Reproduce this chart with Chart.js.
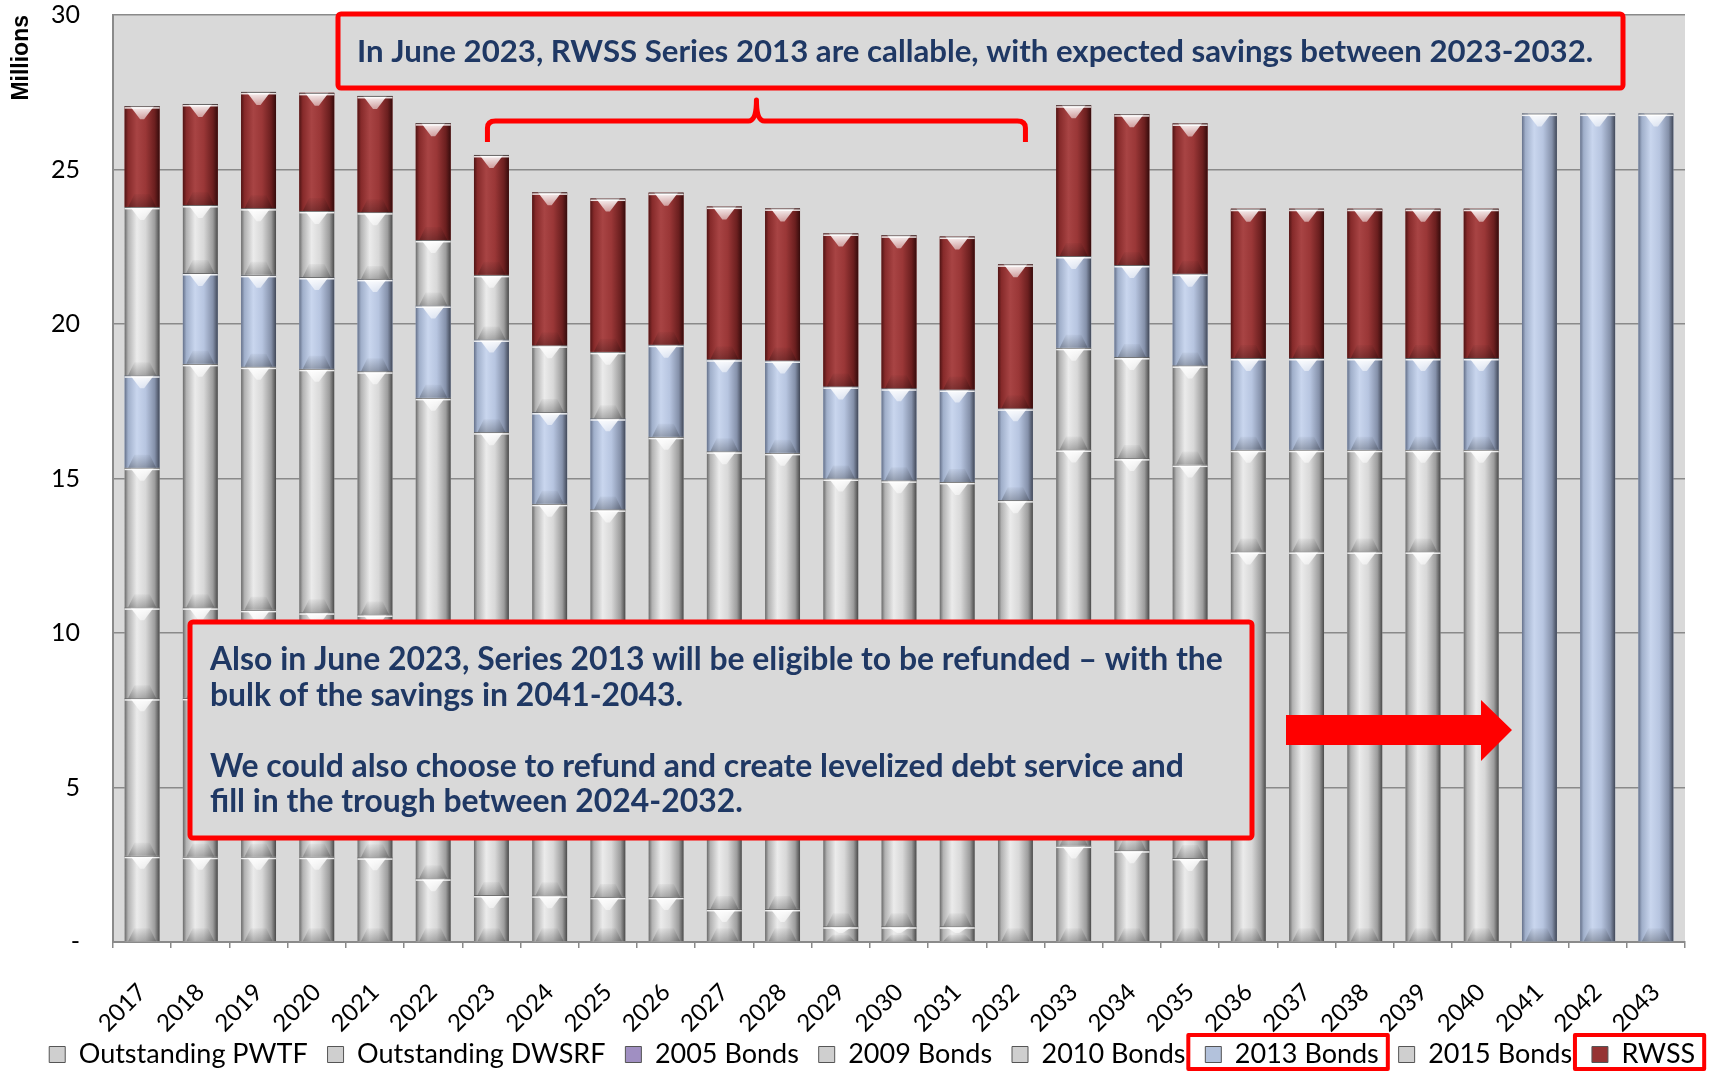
<!DOCTYPE html>
<html>
<head>
<meta charset="utf-8">
<script src="https://cdn.jsdelivr.net/npm/chart.js@4.4.1/dist/chart.umd.min.js"></script>
<style>
  html, body { margin: 0; padding: 0; background: #fff; }
  #wrap { width: 1715px; height: 1071px; }
</style>
</head>
<body>
<div id="wrap"><canvas id="chart"></canvas></div>
<script>
// debt service by year, millions
const years = ['2017', '2018', '2019', '2020', '2021', '2022', '2023', '2024', '2025', '2026',
  '2027', '2028', '2029', '2030', '2031', '2032', '2033', '2034', '2035', '2036',
  '2037', '2038', '2039', '2040', '2041', '2042', '2043'];

const outstandingPwtf = [2.79, 2.76, 2.76, 2.76, 2.74, 2.06, 1.52, 1.51, 1.46, 1.46,
  1.07, 1.07, 0.51, 0.51, 0.51, 0, 0, 0, 0, 0, 0, 0, 0, 0, 0, 0, 0];
const outstandingDwsrf = [5.10, 5.14, 5.09, 5.04, 5.01, 4.90, 4.85, 4.82, 4.69, 4.70,
  4.60, 4.55, 4.30, 4.24, 4.19, 4.10, 3.12, 2.97, 2.72, 0, 0, 0, 0, 0, 0, 0, 0];
const bonds2005 = [0, 0, 0, 0, 0, 0, 0, 0, 0, 0, 0, 0, 0, 0, 0, 0, 0, 0, 0, 0, 0, 0, 0, 0, 0, 0, 0];
const bonds2009 = [2.94, 2.93, 2.90, 2.87, 2.85, 2.80, 2.28, 0, 0, 0, 0, 0, 0, 0, 0, 0,
  12.82, 12.69, 12.73, 12.64, 12.64, 12.64, 12.64, 15.93, 0, 0, 0];
const bonds2010 = [4.52, 7.88, 7.87, 7.88, 7.87, 7.85, 7.85, 7.85, 7.85, 10.19,
  10.21, 10.21, 10.19, 10.19, 10.19, 10.20, 3.29, 3.27, 3.21, 3.29, 3.29, 3.29, 3.29, 0, 0, 0, 0];
const bonds2013 = [2.99, 2.94, 2.97, 2.97, 2.99, 2.99, 3.00, 2.97, 2.95, 2.98,
  2.98, 2.99, 2.98, 2.98, 2.99, 2.97, 2.97, 2.98, 2.97, 2.97, 2.97, 2.97, 2.97, 2.97,
  26.81, 26.81, 26.81];
const bonds2015 = [5.45, 2.20, 2.16, 2.14, 2.16, 2.12, 2.09, 2.16, 2.15, 0,
  0, 0, 0, 0, 0, 0, 0, 0, 0, 0, 0, 0, 0, 0, 0, 0, 0];
const rwss = [3.26, 3.27, 3.76, 3.82, 3.76, 3.78, 3.88, 4.95, 4.96, 4.92,
  4.94, 4.92, 4.95, 4.95, 4.95, 4.66, 4.88, 4.88, 4.86, 4.83, 4.83, 4.83, 4.83, 4.83, 0, 0, 0];

const seriesNames = ['Outstanding PWTF', 'Outstanding DWSRF', '2005 Bonds', '2009 Bonds',
  '2010 Bonds', '2013 Bonds', '2015 Bonds', 'RWSS'];
const seriesValues = [outstandingPwtf, outstandingDwsrf, bonds2005, bonds2009,
  bonds2010, bonds2013, bonds2015, rwss];
const seriesTones = ['gray', 'gray', 'purple', 'gray', 'gray', 'blue', 'gray', 'red'];

const baseColors = { gray: '#cfcfcf', blue: '#b3c2dc', red: '#963434', purple: '#a08fc2' };
const palettes = {
  gray: ['#6a6a6a', '#b2b2b2', '#ebebeb', '#d8d8d8', '#9d9d9d', '#4a4a4a'],
  blue: ['#65718a', '#a0afca', '#c9d6ee', '#b7c5e0', '#8591aa', '#414858'],
  red: ['#501414', '#862a2a', '#a84444', '#9a3737', '#6b1f1f', '#360c0c'],
  purple: ['#6a5a88', '#9484b6', '#b4a6d4', '#a494c6', '#7e6ea0', '#4a3c66']
};
const stops = [0, 0.1, 0.35, 0.6, 0.86, 1];

const navy = '#1f3864';
const font = 'Lato, "Open Sans", sans-serif';
const legendSize = 27;

const plotBg = {
  id: 'plotBg',
  // let the rotated year labels run past the axis box instead of being clipped
  afterLayout(chart) {
    chart.scales.x.bottom = chart.height;
  },
  beforeDraw(chart) {
    const { ctx, chartArea: a } = chart;
    ctx.save();
    ctx.fillStyle = '#d9d9d9';
    ctx.fillRect(a.left, a.top, a.right - a.left, a.bottom - a.top);
    ctx.restore();
  }
};

// shaded bevel look on each bar segment
const bevelBars = {
  id: 'bevelBars',
  afterDatasetsDraw(chart) {
    const ctx = chart.ctx;
    chart.getSortedVisibleDatasetMetas().forEach((meta) => {
      const pal = palettes[seriesTones[meta.index]];
      meta.data.forEach((bar) => {
        const p = bar.getProps(['x', 'y', 'base', 'width'], true);
        const top = Math.min(p.y, p.base);
        const bottom = Math.max(p.y, p.base);
        const h = bottom - top;
        if (h < 0.5) return;
        const w = p.width;
        const l = p.x - w / 2;
        const r = p.x + w / 2;
        ctx.save();
        const g = ctx.createLinearGradient(l, 0, r, 0);
        pal.forEach((c, i) => g.addColorStop(stops[i], c));
        ctx.fillStyle = g;
        ctx.fillRect(l, top, w, h);

        const b = Math.min(13, h / 2.2);
        const tg = ctx.createLinearGradient(0, top, 0, top + b);
        tg.addColorStop(0, 'rgba(255,255,255,0.95)');
        tg.addColorStop(1, 'rgba(255,255,255,0.5)');
        ctx.fillStyle = tg;
        ctx.beginPath();
        ctx.moveTo(l + w * 0.16, top);
        ctx.lineTo(r - w * 0.16, top);
        ctx.lineTo(p.x + 2, top + b);
        ctx.lineTo(p.x - 2, top + b);
        ctx.closePath();
        ctx.fill();

        const bg = ctx.createLinearGradient(0, bottom - b, 0, bottom);
        bg.addColorStop(0, 'rgba(0,0,0,0.03)');
        bg.addColorStop(1, 'rgba(0,0,0,0.25)');
        ctx.fillStyle = bg;
        ctx.beginPath();
        ctx.moveTo(l + w * 0.1, bottom);
        ctx.lineTo(r - w * 0.1, bottom);
        ctx.lineTo(p.x + w * 0.22, bottom - b);
        ctx.lineTo(p.x - w * 0.22, bottom - b);
        ctx.closePath();
        ctx.fill();

        ctx.fillStyle = 'rgba(80,80,80,0.85)';
        ctx.fillRect(l, top, w, 1);
        ctx.fillStyle = 'rgba(255,255,255,0.85)';
        ctx.fillRect(l, top + 1, w, 1.5);
        ctx.restore();
      });
    });
  }
};

function fitSize(ctx, text, width, weight) {
  ctx.font = weight + ' 100px ' + font;
  return 100 * width / ctx.measureText(text).width;
}

function roundBox(ctx, l, t, r, b) {
  ctx.beginPath();
  ctx.roundRect(l, t, r - l, b - t, 3);
  ctx.fillStyle = '#d9d9d9';
  ctx.fill();
  ctx.lineWidth = 5;
  ctx.strokeStyle = '#ff0000';
  ctx.stroke();
}

const notes = {
  id: 'notes',
  afterDraw(chart) {
    const { ctx, scales: { x } } = chart;
    ctx.save();

    // top call-out
    const line1 = 'In June 2023, RWSS Series 2013 are callable, with expected savings between 2023-2032.';
    roundBox(ctx, 338, 14, 1623, 88);
    let size = fitSize(ctx, line1, 1238, 'bold');
    ctx.font = 'bold ' + size.toFixed(1) + 'px ' + font;
    ctx.fillStyle = navy;
    ctx.textAlign = 'left';
    ctx.textBaseline = 'middle';
    ctx.fillText(line1, 357, 52);

    // brace over 2023-2032
    const xs = x.getPixelForValue(6) - 4;
    const xe = x.getPixelForValue(15) + 10;
    const xm = (xs + xe) / 2;
    ctx.beginPath();
    ctx.moveTo(xs, 142);
    ctx.lineTo(xs, 128);
    ctx.quadraticCurveTo(xs, 121, xs + 8, 121);
    ctx.lineTo(xm - 8, 121);
    ctx.quadraticCurveTo(xm, 121, xm, 100);
    ctx.quadraticCurveTo(xm, 121, xm + 8, 121);
    ctx.lineTo(xe - 8, 121);
    ctx.quadraticCurveTo(xe, 121, xe, 128);
    ctx.lineTo(xe, 142);
    ctx.lineWidth = 5;
    ctx.strokeStyle = '#ff0000';
    ctx.lineJoin = 'round';
    ctx.stroke();

    // lower call-out
    roundBox(ctx, 190, 622, 1252, 838);
    const lines = [
      'Also in June 2023, Series 2013 will be eligible to be refunded \u2013 with the',
      'bulk of the savings in 2041-2043.',
      '',
      'We could also choose to refund and create levelized debt service and',
      'fill in the trough between 2024-2032.'
    ];
    size = (fitSize(ctx, lines[0], 986, 'bold') + fitSize(ctx, lines[3], 999, 'bold')) / 2;
    ctx.font = 'bold ' + size.toFixed(1) + 'px ' + font;
    ctx.fillStyle = navy;
    lines.forEach((t, i) => ctx.fillText(t, 210, 660 + i * 35.5));

    // arrow toward 2041-2043
    ctx.beginPath();
    ctx.moveTo(1286, 715);
    ctx.lineTo(1481, 715);
    ctx.lineTo(1481, 700);
    ctx.lineTo(1512, 730);
    ctx.lineTo(1481, 761);
    ctx.lineTo(1481, 745);
    ctx.lineTo(1286, 745);
    ctx.closePath();
    ctx.fillStyle = '#ff0000';
    ctx.fill();

    // highlight legend entries
    const hb = chart.legend.legendHitBoxes;
    ctx.font = legendSize + 'px ' + font;
    ctx.lineWidth = 4;
    ctx.strokeStyle = '#ff0000';
    [5, 7].forEach((i) => {
      const h = hb[i];
      const tw = ctx.measureText(seriesNames[i]).width;
      ctx.strokeRect(h.left - 17, 1035, 16 + legendSize / 2 + tw + 26, 34);
    });
    ctx.restore();
  }
};

const datasets = seriesNames.map((name, i) => ({
  label: name,
  data: seriesValues[i],
  backgroundColor: baseColors[seriesTones[i]],
  borderWidth: 0,
  barPercentage: 0.6,
  categoryPercentage: 1
}));

new Chart(document.getElementById('chart'), {
  type: 'bar',
  data: { labels: years, datasets: datasets },
  plugins: [plotBg, bevelBars, notes],
  options: {
    responsive: true,
    maintainAspectRatio: false,
    animation: false,
    layout: { padding: { left: 0, right: 0, top: 0, bottom: -7 } },
    plugins: {
      tooltip: { enabled: false },
      legend: {
        position: 'bottom',
        align: 'end',
        labels: {
          color: '#000',
          font: { family: font, size: legendSize },
          boxWidth: 16,
          boxHeight: 16,
          padding: 6,
          generateLabels(chart) {
            return Chart.defaults.plugins.legend.labels.generateLabels(chart).map((l) => {
              l.text = l.text + '  ';
              l.strokeStyle = '#555';
              l.lineWidth = 1;
              return l;
            });
          }
        }
      }
    },
    scales: {
      x: {
        stacked: true,
        grid: { display: true, drawOnChartArea: false, drawTicks: true, tickLength: 6, color: '#8a8a8a', lineWidth: 1.5 },
        border: { color: '#8a8a8a', width: 2 },
        ticks: {
          color: '#000',
          font: { family: font, size: 24 },
          maxRotation: 45,
          minRotation: 45,
          autoSkip: false,
          padding: 30
        },
        afterFit(scale) { scale.height = 93; }
      },
      y: {
        stacked: true,
        min: 0,
        max: 30,
        grid: { color: '#8a8a8a', lineWidth: 1.5, drawTicks: true, tickLength: 33, tickColor: 'transparent' },
        border: { color: '#8a8a8a', width: 2 },
        ticks: {
          stepSize: 5,
          color: '#000',
          padding: 0,
          font: { family: font, size: 25 },
          callback: (v) => (v === 0 ? '-' : v)
        },
        title: {
          display: true,
          text: 'Millions',
          align: 'end',
          color: '#000',
          font: { family: '"Liberation Sans", Arial, sans-serif', size: 23, weight: 'bold' },
          padding: { top: 8, bottom: 0 }
        },
        afterFit(scale) { scale.width = 113; }
      },
      rightGap: {
        type: 'linear',
        position: 'right',
        display: true,
        grid: { display: false },
        border: { display: false },
        ticks: { display: false },
        afterFit(scale) { scale.width = 30; }
      }
    }
  }
});
</script>
</body>
</html>
